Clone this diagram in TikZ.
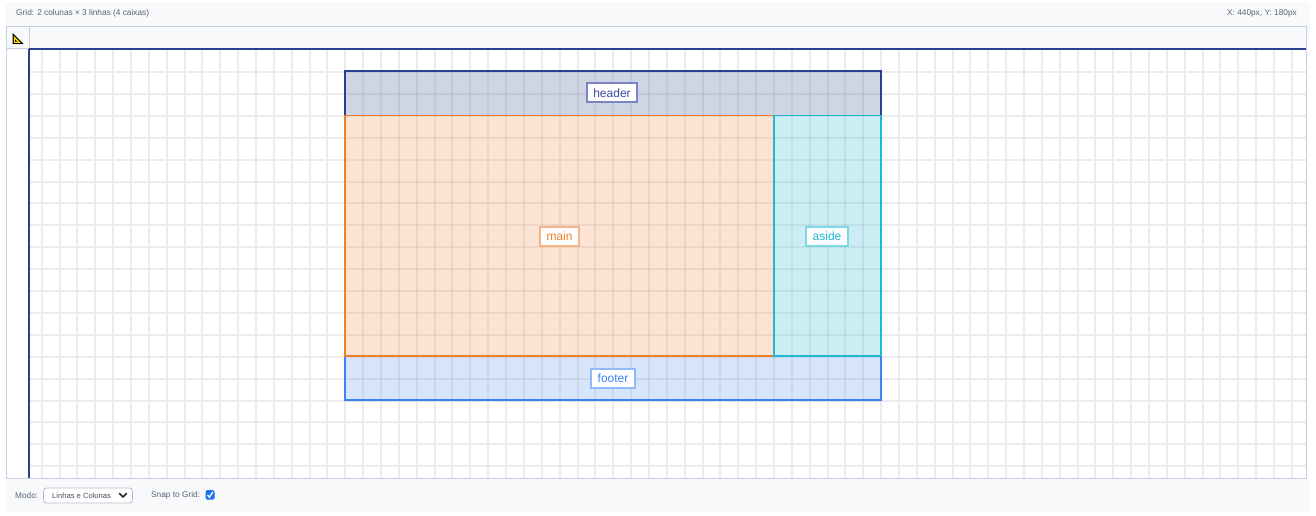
\documentclass[tikz,border=0pt]{standalone}
\usepackage{fontspec}
\setmainfont{Liberation Sans}
\definecolor{panel}{HTML}{F8F9FB}
\definecolor{frameb}{HTML}{C8CEE2}
\definecolor{gridc}{HTML}{EAECEF}
\definecolor{navy}{HTML}{2B3F8F}
\definecolor{hdrfill}{HTML}{D0D5E6}
\definecolor{hdrtext}{HTML}{3A4A9A}
\definecolor{hdrlab}{HTML}{7B86C0}
\definecolor{mainfill}{HTML}{FDE3D3}
\definecolor{mainline}{HTML}{F07F2C}
\definecolor{mainlab}{HTML}{F8B489}
\definecolor{asidefill}{HTML}{CBEEF4}
\definecolor{asideline}{HTML}{1FB8D0}
\definecolor{asidelab}{HTML}{7FD7E5}
\definecolor{footfill}{HTML}{D6E4FC}
\definecolor{footline}{HTML}{3B82F6}
\definecolor{footlab}{HTML}{93B8F8}
\definecolor{uitext}{HTML}{5A6275}
\definecolor{chk}{HTML}{1A73E8}
\begin{document}
\begin{tikzpicture}[x=1pt,y=-1pt,
  uilabel/.style={font=\fontsize{8.3}{10}\selectfont,text=uitext,inner sep=0pt},
  boxlab/.style={draw,line width=2pt,fill=white,font=\fontsize{12}{14}\selectfont,minimum height=19pt,inner xsep=6.5pt,inner ysep=0pt}]
\useasboundingbox (0,0) rectangle (1316,516);
\fill[white] (0,0) rectangle (1316,516);
% top panel
\fill[panel,rounded corners=6pt] (5,2) rectangle (1310,40);
\node[uilabel,anchor=west] (gridinfo) at (16,13) {Grid: 2 colunas × 3 linhas (4 caixas)};
\node[uilabel,anchor=east] (coords) at (1297,13) {X: 440px, Y: 180px};
% canvas frame
\fill[white] (6,27) rectangle (1306,478);
\fill[panel] (29,27) rectangle (1306,49);
\fill[panel] (6,27) rectangle (29,49);
% grid
\foreach \k in {0,...,70} {\draw[gridc,line width=1.5pt] ({round(41.7+17.86*\k)},49) -- ({round(41.7+17.86*\k)},478);}
\foreach \k in {1,...,19} {\draw[gridc,line width=1.5pt] (29,{round(50.2+21.9*\k)}) -- (1306,{round(50.2+21.9*\k)});}
% boxes fills
\fill[hdrfill] (345,71) rectangle (881,115.5);
\fill[mainfill] (345,115.5) rectangle (774,356);
\fill[asidefill] (774,115.5) rectangle (881,356);
\fill[footfill] (345,356) rectangle (881,400);
\foreach \k in {17,...,47} {\draw[black,opacity=0.06,line width=1.5pt] ({round(41.7+17.86*\k)},71) -- ({round(41.7+17.86*\k)},400);}
\foreach \k in {1,...,16} {\draw[black,opacity=0.06,line width=1.5pt] (345,{round(50.2+21.9*\k)}) -- (881,{round(50.2+21.9*\k)});}
% box borders
\draw[navy,line width=1.8pt] (345,71) rectangle (881,115.5);
\draw[footline,line width=1.8pt] (345,356) rectangle (881,400);
\draw[mainline,line width=1.8pt] (345,115.5) rectangle (774,356);
\draw[asideline,line width=1.8pt] (774,115.5) rectangle (881,356);
% labels
\node[boxlab,draw=hdrlab,text=hdrtext] (header) at (612,93) {header};
\node[boxlab,draw=mainlab,text=mainline] (main) at (559.5,236) {main};
\node[boxlab,draw=asidelab,text=asideline] (aside) at (827,236) {aside};
\node[boxlab,draw=footlab,text=footline] (footer) at (613,378) {footer};
% rulers
\draw[frameb,line width=1pt] (6,27) rectangle (1306,478);
\draw[frameb,line width=1pt] (6,27) rectangle (29,49);
\draw[navy,line width=1.2pt] (29,49) -- (1306,49);
\draw[navy,line width=1.2pt] (29,49) -- (29,478);
% ruler icon
\fill[black] (12.5,33) -- (12.5,44) -- (23.5,44) -- cycle;
\fill[yellow!80!orange] (13.8,36) -- (13.8,42.8) -- (20.6,42.8) -- cycle;
\fill[black] (15.2,39.5) -- (15.2,41.6) -- (17.3,41.6) -- cycle;
% bottom panel
\fill[panel,rounded corners=6pt] (6,478.5) rectangle (1310,512);
\draw[frameb,line width=1pt] (6,478) -- (1306,478);
\node[uilabel,anchor=west] (modo) at (15,495.5) {Modo:};
\draw[frameb!80!gray,fill=white,rounded corners=3pt,line width=0.8pt] (43.5,488) rectangle (132.5,503);
\node[uilabel,anchor=west,text=uitext!80!black,font=\fontsize{7.6}{9}\selectfont] (ddtext) at (52,495.5) {Linhas e Colunas};
\draw[black!85,line width=1.6pt,line cap=round,line join=round] (119.5,493.5) -- (123,497) -- (126.5,493.5);
\node[uilabel,anchor=west] (snap) at (151,495.5) {Snap to Grid:};
\fill[chk,rounded corners=1.5pt] (205.5,490) rectangle (214.5,499.5);
\draw[white,line width=1.3pt] (207.5,495) -- (209.5,497.3) -- (212.8,491.8);
\end{tikzpicture}
\end{document}
